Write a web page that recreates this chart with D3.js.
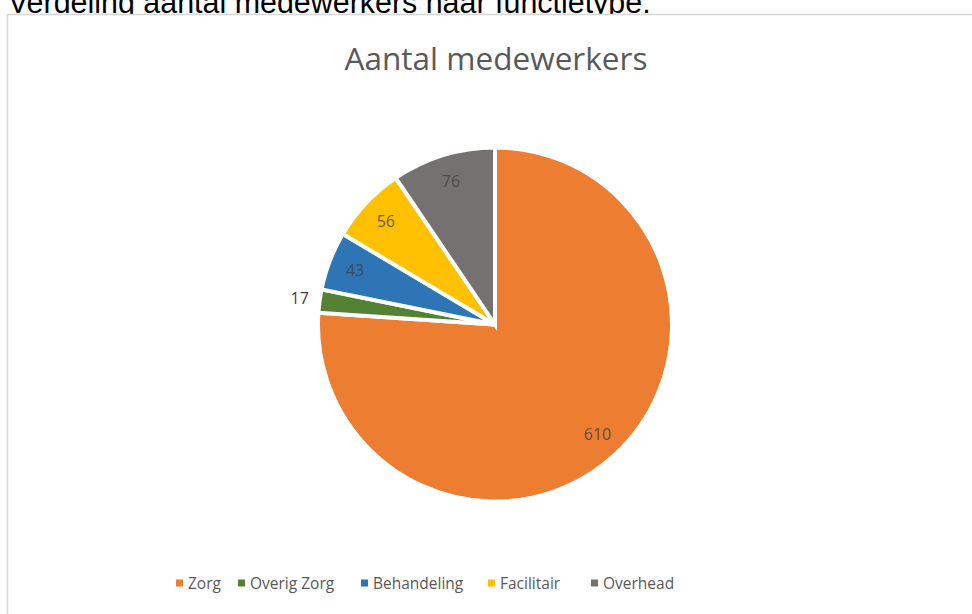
<!DOCTYPE html>
<html><head><meta charset="utf-8">
<script src="https://cdn.jsdelivr.net/npm/d3@7"></script>
<style>html,body{margin:0;padding:0;background:#fff;overflow:hidden}</style>
</head><body>
<svg id="c" width="972" height="614"></svg>
<script>
const categories = ["Zorg", "Overig Zorg", "Behandeling", "Facilitair", "Overhead"];
const values = [610, 17, 43, 56, 76];
const colors = ["#ED7D31", "#548235", "#2E75B6", "#FFC000", "#767171"];
const headerText = "Verdeling aantal medewerkers naar functietype:";
const chartTitle = "Aantal medewerkers";

const svg = d3.select("#c");

function fitText(sel, target) {
  const w = sel.node().getComputedTextLength();
  const fs = parseFloat(sel.attr("font-size"));
  sel.attr("font-size", fs * target / w);
}

// header text (partially cut off at top, as in the source)
const hdr = svg.append("text").attr("x", 8).attr("y", 13)
  .attr("font-family", "Liberation Sans, Arial, sans-serif")
  .attr("font-size", 20).attr("fill", "#000").text(headerText);
fitText(hdr, 643);

// chart frame
svg.append("rect").attr("x", 7.5).attr("y", 14.5).attr("width", 1000).attr("height", 700)
  .attr("fill", "#fff").attr("stroke", "#d6d6d6").attr("stroke-width", 1.5);

// title
const title = svg.append("text").attr("x", 496).attr("y", 70).attr("text-anchor", "middle")
  .attr("font-family", "Open Sans, Noto Sans, sans-serif").attr("font-size", 28)
  .attr("fill", "#595959").text(chartTitle);
fitText(title, 303);

// pie
const cx = 495, cy = 324.5, R = 177;
const pie = d3.pie().sort(null).value(d => d.v);
const data = pie(categories.map((c, i) => ({c, v: values[i], col: colors[i]})));
const arc = d3.arc().innerRadius(0).outerRadius(R);
const g = svg.append("g").attr("transform", `translate(${cx},${cy})`);
g.selectAll("path").data(data).join("path")
  .attr("d", arc).attr("fill", d => d.data.col)
  .attr("stroke", "#fff").attr("stroke-width", 4).attr("stroke-linejoin", "miter");

// labels
const inArc = d3.arc().innerRadius(150).outerRadius(150);
const outArc = d3.arc().innerRadius(197).outerRadius(197);
const isInside = d => (d.endAngle - d.startAngle) > 0.25;
g.selectAll("text.lbl").data(data).join("text").attr("class", "lbl")
  .attr("transform", d => {
    const p = (isInside(d) ? inArc : outArc).centroid(d);
    return `translate(${p[0]},${p[1]})`;
  })
  .attr("text-anchor", "middle").attr("dy", "0.35em")
  .attr("font-family", "Open Sans, Noto Sans, sans-serif").attr("font-size", 16)
  .attr("fill", "#404040")
  .attr("fill-opacity", d => isInside(d) ? 0.8 : 1)
  .text(d => d.data.v);

// legend
const legX = [176, 238, 361, 488, 591];
const lg = svg.append("g");
categories.forEach((c, i) => {
  lg.append("rect").attr("x", legX[i]).attr("y", 579.5).attr("width", 7).attr("height", 7).attr("fill", colors[i]);
  lg.append("text").attr("x", legX[i] + 12).attr("y", 589)
    .attr("font-family", "Open Sans, Noto Sans, sans-serif").attr("font-size", 15.5)
    .attr("fill", "#595959").text(c);
});
</script>
</body></html>
